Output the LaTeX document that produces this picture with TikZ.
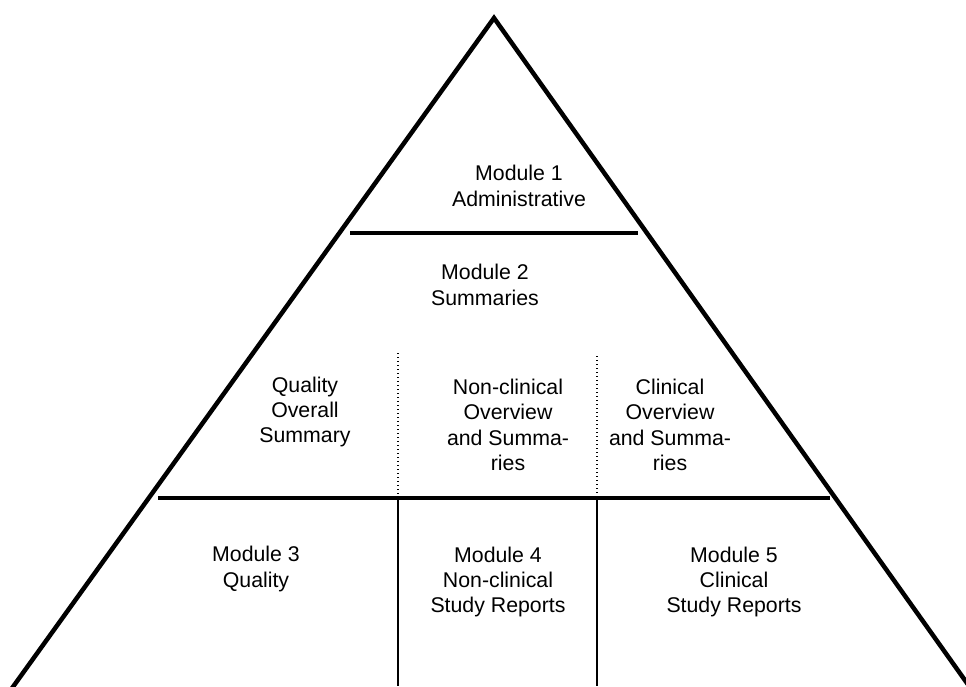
\documentclass[tikz,border=0pt]{standalone}
\usepackage{fontspec}
\setmainfont{Liberation Sans}
\begin{document}
\begin{tikzpicture}[x=1pt,y=-1pt,
  edge/.style={line width=4.5pt, line join=miter},
  rule/.style={line width=4pt},
  divider/.style={line width=2pt},
  dotdiv/.style={line width=1.2pt, dash pattern=on 1.3pt off 2.7pt},
  label/.style={align=center, font=\fontsize{21.3}{25.3}\selectfont, inner sep=0pt}]
\useasboundingbox (0,0) rectangle (966,686);

% pyramid outline, running off the bottom edge
\begin{scope}
  \clip (0,0) rectangle (966,686);
  \coordinate (apex) at (494,18);
  \coordinate (baseL) at (3.5,700);
  \coordinate (baseR) at (979,700);
  \draw[edge] (baseL) -- (apex) -- (baseR);
\end{scope}

% horizontal tiers
\coordinate (t1L) at (350,233);
\coordinate (t1R) at (638,233);
\coordinate (t2L) at (158,498);
\coordinate (t2R) at (830,498);
\draw[rule] (t1L) -- (t1R);
\draw[rule] (t2L) -- (t2R);

% dotted dividers within Module 2
\coordinate (d1T) at (398,353);
\coordinate (d1B) at (398,496);
\coordinate (d2T) at (597,356);
\coordinate (d2B) at (597,496);
\draw[dotdiv] (d1T) -- (d1B);
\draw[dotdiv] (d2T) -- (d2B);

% solid dividers between Modules 3, 4 and 5
\coordinate (v1T) at (398,498);
\coordinate (v1B) at (398,686);
\coordinate (v2T) at (597,498);
\coordinate (v2B) at (597,686);
\draw[divider] (v1T) -- (v1B);
\draw[divider] (v2T) -- (v2B);

% labels
\node[label] (m1) at (519,186) {Module 1\\Administrative};
\node[label] (m2) at (485,285) {Module 2\\Summaries};
\node[label] (qos) at (305,412) {Quality\\Overall\\Summary};
\node[label] (ncs) at (508,425) {Non-clinical\\Overview\\and Summa-\\ries};
\node[label] (cs) at (670,425) {Clinical\\Overview\\and Summa-\\ries};
\node[label] (m3) at (256,569) {Module 3\\Quality};
\node[label] (m4) at (498,582) {Module 4\\Non-clinical\\Study Reports};
\node[label] (m5) at (734,582) {Module 5\\Clinical\\Study Reports};
\end{tikzpicture}
\end{document}
